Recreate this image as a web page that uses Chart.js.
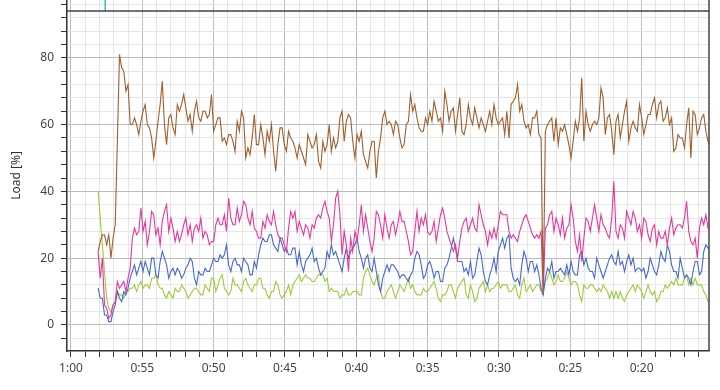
<!DOCTYPE html>
<html lang="en">
<head>
<meta charset="UTF-8" />
<title>Load</title>
<script src="https://cdn.jsdelivr.net/npm/chart.js"></script>
<style>
  html, body { margin: 0; padding: 0; background: #fff; overflow: hidden; }
  .wrap { width: 720px; height: 390px; position: relative; }
</style>
</head>
<body>
<div class="wrap"><canvas id="loadChart"></canvas></div>
<script>
// samples every 0.15 min, first one at 58.1 min
const START = 58.1;
const STEP = 0.15;

const brown = [
  22, 25, 27, 27, 24, 27, 20, 26, 30, 55,
  81, 77, 76, 70, 72, 60, 60, 62, 60, 57,
  61, 64, 66, 60, 59, 56, 50, 55, 61, 66,
  73, 60, 54, 62, 63, 59, 57, 66, 64, 66,
  69, 65, 61, 63, 58, 64, 67, 62, 61, 64,
  64, 62, 63, 69, 58, 60, 62, 62, 55, 56,
  54, 57, 57, 55, 52, 61, 58, 64, 62, 50,
  53, 51, 56, 63, 54, 54, 60, 56, 51, 58,
  55, 60, 52, 46, 54, 59, 59,
  54, 52, 58, 56, 55, 53, 50, 54, 52, 50,
  48, 57, 55, 53, 54, 57, 49, 47, 55, 52,
  54, 60, 52, 56, 53, 55, 62, 64, 55, 61,
  63, 62, 55, 50, 57, 55, 58, 51, 49, 47,
  52, 55, 55, 44, 52, 56, 62, 64, 60, 61,
  60, 57, 61, 60, 56, 53, 54, 60, 61, 69,
  64, 66, 62, 59, 58, 58, 62, 60, 64, 61,
  67, 64, 61, 62, 58, 70, 66, 61, 64, 65,
  58, 63, 68, 58, 57, 60, 66, 62, 60, 65,
  62, 59, 62, 60, 58, 61, 64, 60, 66,
  62, 60, 61, 62, 57, 64, 56, 66, 67, 68,
  72, 64, 66, 61, 59, 60, 57, 62, 62, 64,
  57, 56, 9, 58, 60, 61, 62, 55, 62, 54,
  59, 58, 60, 57, 54, 50, 55, 61, 58, 62,
  74, 55, 64, 60, 58, 60, 61, 60, 62, 71,
  68, 57, 62, 63, 58, 51, 61, 63, 56, 60,
  64, 67, 55, 59, 61, 59, 58, 66, 62, 57,
  60, 63, 63, 66, 68, 62, 66, 67, 61, 62,
  65, 60, 62, 52, 53, 57, 56, 56, 53, 60,
  65, 50, 64, 63, 57, 59, 62, 63, 58, 55,
  54
];
const pink = [
  22, 14, 20, 6, 5, 2, 3, 6, 7, 13,
  11, 12, 13, 10, 14, 17, 26, 29, 27, 28,
  35, 28, 31, 24, 28, 34, 33, 27, 29, 24,
  31, 34, 36, 28, 32, 29, 25, 28, 25, 27,
  30, 32, 27, 30, 25, 29, 30, 28, 32, 26,
  28, 27, 24, 25, 25, 30, 32, 30, 30, 33,
  28, 38, 32, 30, 30, 35, 31, 33, 37, 36,
  32, 30, 34, 29, 28, 26, 26, 31, 29, 33,
  31, 30, 34, 30, 27, 26, 26,
  24, 22, 29, 34, 32, 34, 28, 31, 29, 27,
  30, 29, 26, 30, 29, 32, 33, 32, 35, 37,
  34, 32, 25, 30, 38, 40, 33, 21, 28, 24,
  16, 26, 22, 28, 25, 30, 36, 28, 33, 29,
  25, 22, 26, 34, 33, 30, 26, 33, 29, 26,
  30, 31, 27, 30, 34, 31, 31, 28, 25, 21,
  22, 28, 34, 28, 32, 30, 33, 28, 27, 28,
  31, 25, 29, 33, 35, 32, 28, 26, 24, 22,
  24, 20, 25, 29, 31, 32, 28, 30, 32, 29,
  28, 36, 33, 30, 28, 24, 28, 26, 29,
  26, 30, 34, 33, 33, 33, 28, 26, 27, 26,
  25, 28, 30, 32, 33, 31, 29, 27, 26, 27,
  26, 28, 10, 29, 30, 33, 34, 28, 32, 30,
  27, 32, 26, 29, 30, 36, 32, 25, 22, 27,
  19, 26, 32, 31, 28, 32, 36, 32, 28, 33,
  30, 29, 27, 26, 32, 43, 28, 26, 30, 29,
  26, 34, 32, 30, 34, 32, 28, 30, 26, 32,
  31, 27, 25, 29, 30, 24, 28, 26, 26, 28,
  24, 29, 32, 27, 29, 30, 30, 29, 32, 37,
  28, 25, 24, 26, 20, 29, 32, 30, 33, 29,
  28
];
const blue = [
  11, 8, 8, 3, 3, 1, 1, 4, 6, 10,
  8, 7, 10, 9, 11, 14, 16, 18, 15, 17,
  19, 16, 19, 17, 15, 20, 20, 15, 14, 19,
  22, 20, 18, 14, 16, 17, 15, 17, 16, 14,
  15, 17, 18, 20, 19, 14, 12, 16, 15, 15,
  17, 16, 16, 18, 20, 19, 19, 21, 20, 21,
  24, 18, 16, 19, 20, 18, 18, 16, 20, 19,
  18, 15, 15, 19, 17, 21, 24, 26, 25, 25,
  27, 27, 24, 23, 22, 26, 24,
  22, 23, 21, 21, 23, 23, 18, 22, 18, 16,
  19, 20, 21, 23, 19, 20, 17, 15, 16, 17,
  22, 20, 24, 21, 22, 20, 18, 16, 20, 23,
  20, 22, 23, 24, 26, 22, 20, 17, 20, 21,
  17, 16, 20, 16, 12, 10, 14, 16, 18, 16,
  18, 18, 17, 16, 14, 15, 15, 14, 13, 15,
  16, 20, 22, 21, 18, 14, 15, 18, 19, 17,
  14, 16, 16, 13, 13, 17, 18, 20, 23, 26,
  23, 19, 19, 19, 16, 17, 15, 19, 14, 15,
  19, 23, 21, 16, 13, 12, 15, 17, 20,
  16, 22, 24, 26, 23, 26, 27, 17, 14, 13,
  14, 12, 18, 22, 20, 16, 19, 19, 16, 18,
  15, 11, 9, 14, 17, 16, 19, 14, 16, 16,
  17, 16, 15, 18, 15, 19, 16, 15, 15, 21,
  22, 18, 20, 17, 16, 16, 14, 20, 18, 16,
  14, 16, 18, 20, 21, 19, 18, 22, 18, 19,
  16, 19, 21, 18, 20, 16, 17, 17, 16, 17,
  14, 16, 20, 18, 16, 15, 18, 22, 20, 19,
  24, 22, 18, 16, 16, 14, 20, 17, 14, 15,
  14, 12, 16, 19, 19, 15, 16, 22, 24, 23,
  23
];
const green = [
  40, 32, 24, 16, 8, 5, 4, 6, 7, 10,
  9, 9, 8, 10, 10, 11, 11, 12, 10, 12,
  13, 11, 12, 12, 11, 14, 14, 15, 12, 11,
  11, 9, 8, 10, 9, 8, 11, 10, 10, 12,
  11, 10, 8, 9, 10, 11, 11, 10, 9, 9,
  12, 11, 10, 14, 14, 10, 12, 14, 15, 11,
  10, 9, 10, 14, 12, 12, 11, 10, 13, 14,
  12, 11, 10, 12, 12, 14, 14, 11, 11, 9,
  8, 10, 10, 13, 12, 9, 8,
  9, 10, 12, 9, 12, 13, 14, 15, 13, 14,
  15, 14, 14, 13, 13, 14, 15, 15, 15, 13,
  14, 10, 11, 10, 10, 10, 8, 9, 9, 11,
  9, 9, 10, 10, 10, 9, 9, 14, 16, 17,
  15, 13, 12, 14, 15, 10, 8, 8, 10, 11,
  12, 10, 8, 10, 12, 11, 10, 12, 14, 11,
  12, 10, 9, 9, 9, 11, 10, 10, 11, 12,
  13, 11, 8, 7, 9, 9, 10, 12, 12, 10,
  8, 11, 12, 13, 14, 9, 8, 12, 10, 7,
  8, 11, 12, 13, 10, 12, 10, 11, 11,
  12, 13, 11, 12, 12, 12, 10, 10, 11, 12,
  9, 8, 12, 14, 10, 11, 12, 10, 11, 12,
  12, 10, 10, 13, 14, 16, 14, 12, 13, 15,
  13, 13, 14, 16, 14, 12, 13, 13, 12, 9,
  7, 12, 11, 11, 12, 12, 11, 10, 11, 10,
  12, 11, 10, 8, 10, 8, 10, 8, 10, 8,
  7, 9, 10, 11, 12, 10, 12, 11, 10, 8,
  10, 12, 10, 9, 10, 7, 8, 10, 10, 12,
  11, 12, 13, 12, 14, 12, 12, 12, 14, 15,
  12, 14, 12, 14, 12, 12, 12, 10, 9, 7,
  7
];

const xMajor = [60, 55, 50, 45, 40, 35, 30, 25, 20];
const xLabels = ['1:00', '0:55', '0:50', '0:45', '0:40', '0:35', '0:30', '0:25', '0:20'];
const yMajor = [0, 20, 40, 60, 80];

const LIMIT = 94;      // dark line near the top
const MARKER = 57.6;   // small teal mark above it

const times = brown.map((_, i) => +(START - i * STEP).toFixed(2));
const pts = arr => arr.map((v, i) => ({ x: times[i], y: v }));

const xTicks = [];
for (let m = 16; m <= 60; m++) xTicks.push(m);
const yTicks = [];
for (let v = -4; v <= 96; v += 4) yTicks.push(v);

const font = { family: "'Noto Sans', 'Open Sans', sans-serif", size: 12 };

// no extra room for half labels at the ends of the axes
const noPad = s => { s.paddingTop = 0; s.paddingBottom = 0; s.paddingLeft = 0; s.paddingRight = 0; };

const overlay = {
  id: 'overlay',
  afterDatasetsDraw(chart) {
    const { ctx, chartArea: a, scales } = chart;
    const y = scales.y.getPixelForValue(LIMIT);
    const mx = scales.x.getPixelForValue(MARKER);
    ctx.save();
    ctx.strokeStyle = '#2cc0b0';
    ctx.lineWidth = 1.5;
    ctx.beginPath();
    ctx.moveTo(mx, 0);
    ctx.lineTo(mx, y);
    ctx.stroke();
    ctx.strokeStyle = '#444';
    ctx.lineWidth = 1.5;
    ctx.beginPath();
    ctx.moveTo(a.left, y);
    ctx.lineTo(a.right, y);
    ctx.moveTo(a.right, 0);
    ctx.lineTo(a.right, a.bottom);
    ctx.stroke();
    ctx.restore();
  }
};

const line = (data, color) => ({
  data: pts(data),
  borderColor: color,
  borderWidth: 1.1,
  pointRadius: 0,
  tension: 0
});

new Chart(document.getElementById('loadChart'), {
  type: 'line',
  data: {
    datasets: [
      line(brown, '#a05f2c'),
      line(pink, '#e8369c'),
      line(blue, '#4668d2'),
      line(green, '#9ccb3a')
    ]
  },
  options: {
    responsive: true,
    maintainAspectRatio: false,
    animation: false,
    layout: { padding: { top: 0, right: 11, left: 0, bottom: 0 } },
    plugins: { legend: { display: false }, tooltip: { enabled: false } },
    scales: {
      x: {
        type: 'linear',
        reverse: true,
        min: 15.28,
        max: 60.28,
        afterBuildTicks: s => { s.ticks = xTicks.map(v => ({ value: v })); },
        afterFit: s => { s.height = 39; noPad(s); },
        border: { display: true, color: '#333', width: 1.5 },
        grid: {
          color: c => c.tick && xMajor.includes(c.tick.value) ? '#bcbcbc' : '#e6e6e6',
          tickColor: '#333',
          tickLength: 6
        },
        ticks: {
          autoSkip: false,
          maxRotation: 0,
          padding: 4,
          color: '#444',
          font: font,
          callback: v => {
            const k = xMajor.indexOf(v);
            return k >= 0 ? xLabels[k] : '';
          }
        }
      },
      y: {
        min: -7.8,
        max: 97.3,
        afterBuildTicks: s => { s.ticks = yTicks.map(v => ({ value: v })); },
        afterFit: s => { s.width = 67; noPad(s); },
        border: { display: true, color: '#333', width: 1.5 },
        grid: {
          color: c => c.tick && yMajor.includes(c.tick.value) ? '#bcbcbc' : '#e6e6e6',
          tickColor: '#333',
          tickLength: 6
        },
        ticks: {
          autoSkip: false,
          padding: 7,
          color: '#444',
          font: font,
          callback: v => yMajor.includes(v) ? String(v) : ''
        },
        title: {
          display: true,
          text: 'Load [%]',
          color: '#333',
          font: font,
          padding: { top: 9, bottom: 0 }
        }
      }
    }
  },
  plugins: [overlay]
});
</script>
</body>
</html>
